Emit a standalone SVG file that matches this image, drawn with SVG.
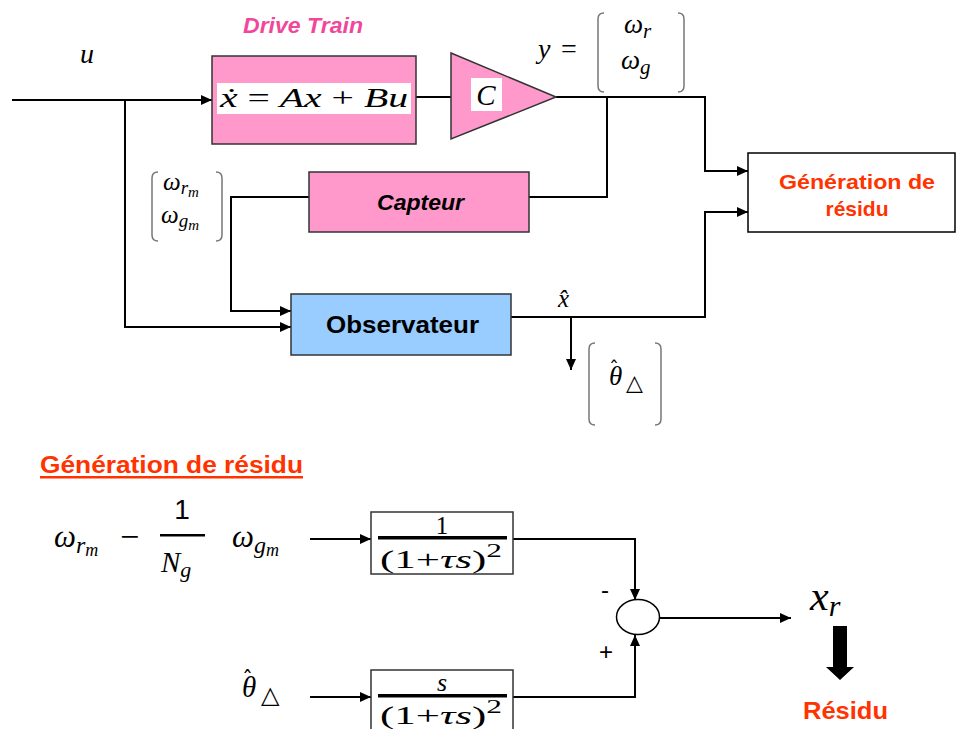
<svg xmlns="http://www.w3.org/2000/svg" width="956" height="729" viewBox="0 0 956 729">
<defs>
<marker id="ah" markerUnits="userSpaceOnUse" markerWidth="12" markerHeight="10" refX="11" refY="5" orient="auto">
<path d="M0,0 L11,5 L0,10 Z" fill="#000"/>
</marker>
<style>
.ln{fill:none;stroke:#000;stroke-width:2}
.ar{fill:none;stroke:#000;stroke-width:2;marker-end:url(#ah)}
.box{stroke:#333;stroke-width:1.5}
.pink{fill:#FF99CC}
.m{font-family:"Liberation Serif","DejaVu Serif",serif;font-style:italic;fill:#000}
.mr{font-family:"Liberation Serif","DejaVu Serif",serif;fill:#000}
.hat{font-family:"DejaVu Sans","Liberation Sans",sans-serif;font-style:normal}
.bk{fill:none;stroke:#777;stroke-width:1.5}
.red{font-family:"Liberation Sans",Arial,sans-serif;font-weight:bold;fill:#FF3300}
.sans{font-family:"Liberation Sans",Arial,sans-serif;fill:#000}
</style>
</defs>
<rect width="956" height="729" fill="#fff"/>

<g id="connectors">
<path class="ar" d="M12,100 H212"/>
<path class="ln" d="M416,97 H451"/>
<path class="ar" d="M556,97 H705 V171 H748"/>
<path class="ln" d="M607,97 V197 H529"/>
<path class="ar" d="M309,197 H231 V311 H291"/>
<path class="ar" d="M125,100 V327 H291"/>
<path class="ar" d="M511,317 H705 V212 H748"/>
<path class="ar" d="M571,317 V370"/>
<path class="ar" d="M310,539 H371"/>
<path class="ar" d="M310,697 H371"/>
<path class="ar" d="M513,539 H635 V600"/>
<path class="ar" d="M513,697 H635 V635"/>
<path class="ar" d="M659,618 H791"/>
</g>

<g id="drive-train">
<text x="243" y="33" font-family="Liberation Sans, Arial, sans-serif" font-weight="bold" font-style="italic" font-size="22" fill="#F0479B" textLength="120" lengthAdjust="spacingAndGlyphs">Drive Train</text>
<rect class="box pink" x="212" y="56" width="204" height="88"/>
<rect x="217" y="83" width="194" height="31" fill="#fff"/>
<text class="mr" x="220" y="107" font-size="27" textLength="188" lengthAdjust="spacingAndGlyphs"><tspan font-style="italic">ẋ</tspan> = <tspan font-style="italic">Ax</tspan> + <tspan font-style="italic">Bu</tspan></text>
</g>

<g id="input-label">
<text class="m" x="80" y="63" font-size="28">u</text>
</g>

<g id="gain-C">
<path class="box pink" d="M451,53 L556,97 L451,139 Z"/>
<rect x="471" y="78" width="31" height="33" fill="#fff"/>
<text class="m" x="486" y="105" font-size="29" text-anchor="middle">C</text>
</g>

<g id="y-output">
<text class="m" x="538" y="58" font-size="28">y</text>
<text class="mr" x="561" y="58" font-size="28">=</text>
<path class="bk" d="M604,13 Q598,13 598,19 V86 Q598,92 604,92"/>
<path class="bk" d="M678,13 Q684,13 684,19 V86 Q684,92 678,92"/>
<text class="m" x="624" y="33" font-size="27">ω<tspan font-size="21" dy="5">r</tspan></text>
<text class="m" x="621" y="69" font-size="27">ω<tspan font-size="21" dy="5">g</tspan></text>
</g>

<g id="residu-gen">
<rect x="748" y="153" width="207" height="79" fill="#fff" stroke="#000" stroke-width="1.5"/>
<text class="red" x="779" y="189" font-size="21" textLength="156" lengthAdjust="spacingAndGlyphs">Génération de</text>
<text class="red" x="857" y="216" font-size="21" text-anchor="middle">résidu</text>
</g>

<g id="capteur">
<rect class="box pink" x="309" y="172" width="220" height="60"/>
<text class="sans" x="377" y="210" font-size="22" font-weight="bold" font-style="italic" textLength="87" lengthAdjust="spacingAndGlyphs">Capteur</text>
</g>

<g id="measured">
<path class="bk" d="M158,172 Q152,172 152,178 V235 Q152,241 158,241"/>
<path class="bk" d="M216,172 Q222,172 222,178 V235 Q222,241 216,241"/>
<text class="m" x="163" y="190" font-size="25">ω<tspan font-size="19" dy="4">r</tspan><tspan font-size="15" dy="3">m</tspan></text>
<text class="m" x="161" y="223" font-size="25">ω<tspan font-size="19" dy="4">g</tspan><tspan font-size="15" dy="3">m</tspan></text>
</g>

<g id="observateur">
<rect x="291" y="294" width="220" height="61" fill="#99CCFF" stroke="#333" stroke-width="1.5"/>
<text class="sans" x="326" y="333" font-size="24" font-weight="bold" textLength="153" lengthAdjust="spacingAndGlyphs">Observateur</text>
</g>

<g id="xhat">
<text class="m" x="558" y="307" font-size="25">x̂</text>
</g>

<g id="theta-out">
<path class="bk" d="M595,343 Q589,343 589,349 V419 Q589,425 595,425"/>
<path class="bk" d="M655,343 Q661,343 661,349 V419 Q661,425 655,425"/>
<text class="m" x="609" y="385" font-size="27">θ<tspan class="hat" x="609" y="375" font-size="20">ˆ</tspan><tspan font-style="normal" x="626" y="390" font-size="22">△</tspan></text>
</g>

<g id="heading">
<text class="red" x="40" y="473" font-size="23" textLength="263" lengthAdjust="spacingAndGlyphs">Génération de résidu</text>
<rect x="40" y="476" width="263" height="2.5" fill="#FF3300"/>
</g>

<g id="formula">
<text class="m" x="54" y="547" font-size="31">ω<tspan font-size="24" dy="6">r</tspan><tspan font-size="18" dy="3">m</tspan></text>
<text class="mr" x="120" y="548" font-size="34">−</text>
<text class="sans" x="182" y="519" font-size="28" text-anchor="middle">1</text>
<rect x="160" y="534" width="45" height="2.5" fill="#000"/>
<text class="m" x="161" y="572" font-size="29">N<tspan font-size="22" dy="5">g</tspan></text>
<text class="m" x="232" y="547" font-size="31">ω<tspan font-size="24" dy="6">g</tspan><tspan font-size="18" dy="3">m</tspan></text>
</g>

<g id="filter1">
<rect x="371" y="512" width="142" height="62" fill="#fff" stroke="#333" stroke-width="1.5"/>
<text class="mr" x="442" y="534" font-size="25" text-anchor="middle">1</text>
<rect x="378" y="536" width="129" height="3.5" fill="#000"/>
<text class="mr" x="380" y="568" font-size="26" textLength="122" lengthAdjust="spacingAndGlyphs">(1+<tspan font-style="italic">τs</tspan>)<tspan font-size="19" dy="-11">2</tspan></text>
</g>

<g id="theta-in">
<text class="m" x="242" y="697" font-size="29">θ<tspan class="hat" x="242" y="686" font-size="22">ˆ</tspan><tspan font-style="normal" x="261" y="703" font-size="24">△</tspan></text>
</g>

<g id="filter2">
<rect x="371" y="670" width="142" height="62" fill="#fff" stroke="#333" stroke-width="1.5"/>
<text class="m" x="442" y="691" font-size="26" text-anchor="middle">s</text>
<rect x="378" y="694" width="129" height="3.5" fill="#000"/>
<text class="mr" x="380" y="724" font-size="26" textLength="122" lengthAdjust="spacingAndGlyphs">(1+<tspan font-style="italic">τs</tspan>)<tspan font-size="19" dy="-11">2</tspan></text>
</g>

<g id="summer">
<ellipse cx="638" cy="617" rx="21.5" ry="17.5" fill="#fff" stroke="#000" stroke-width="1.5"/>
<text class="sans" x="601" y="598" font-size="24">-</text>
<text class="sans" x="599" y="660" font-size="24">+</text>
</g>

<g id="xr">
<text class="m" x="810" y="610" font-size="42">x<tspan font-size="30" dy="6">r</tspan></text>
<path d="M833,626 H847 V667 H854 L840,680 L826,667 H833 Z" fill="#000"/>
<text class="red" x="803" y="719" font-size="24" textLength="85" lengthAdjust="spacingAndGlyphs">Résidu</text>
</g>
</svg>
